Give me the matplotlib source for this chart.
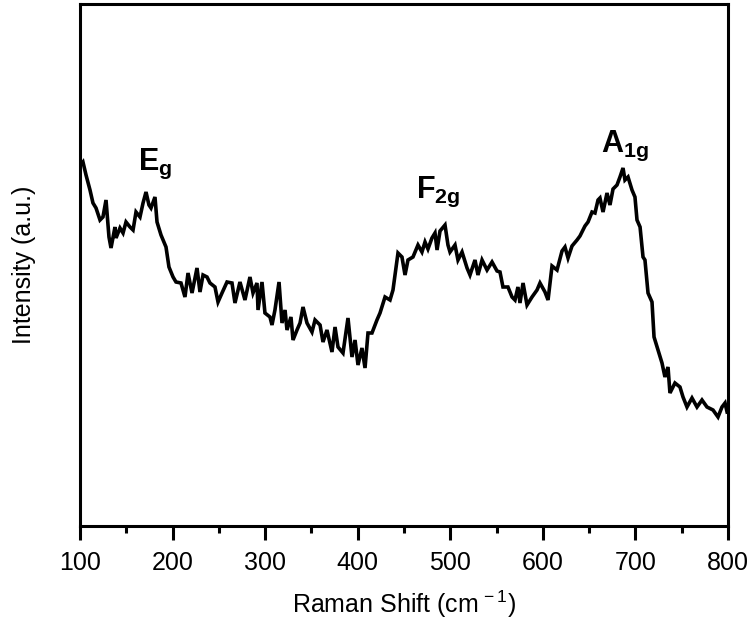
import matplotlib
matplotlib.use("Agg")
import matplotlib.pyplot as plt
from matplotlib.ticker import MultipleLocator

plt.rcParams['font.family'] = ['Liberation Sans', 'DejaVu Sans']
plt.rcParams['mathtext.fontset'] = 'custom'
plt.rcParams['mathtext.rm'] = 'Liberation Sans'
plt.rcParams['mathtext.it'] = 'Liberation Sans'
plt.rcParams['mathtext.bf'] = 'Liberation Sans:bold'

# Raman shift (cm^-1)
raman_shift = [100.5, 103.2, 106.5, 110.8, 114.0, 117.3, 121.6, 124.8, 128.1, 131.3,
               133.5, 137.8, 138.9, 143.2, 146.5, 149.7, 154.0, 157.3, 160.5, 164.8,
               168.1, 171.3, 174.5, 176.7, 181.0, 183.2, 187.5, 192.9, 196.1, 200.5,
               203.7, 209.1, 213.4, 216.7, 221.0, 226.4, 229.6, 232.9, 237.2, 240.4,
               245.8, 249.1, 253.4, 258.8, 264.2, 267.4, 272.8, 278.2, 283.6, 286.9,
               291.2, 292.3, 296.6, 299.8, 305.2, 307.4, 310.6, 315.0, 318.2, 321.5,
               323.6, 327.9, 330.1, 334.4, 337.7, 340.9, 345.2, 350.6, 353.9, 359.3,
               362.5, 366.8, 372.2, 375.5, 378.7, 384.1, 389.5, 393.8, 397.1, 400.3,
               404.6, 407.9, 411.1, 415.4, 420.8, 424.1, 429.5, 434.9, 438.1, 440.3,
               443.5, 447.8, 451.1, 454.3, 459.7, 465.1, 469.4, 472.7, 475.9, 480.2,
               483.5, 485.7, 488.9, 494.3, 497.5, 499.7, 505.1, 508.3, 512.7, 518.1,
               521.3, 526.7, 529.9, 534.3, 539.7, 545.1, 550.5, 553.7, 556.9, 562.3,
               566.7, 569.9, 573.1, 575.3, 578.6, 582.9, 588.3, 593.7, 596.9, 602.3,
               605.6, 609.9, 615.3, 620.7, 623.9, 627.2, 631.5, 636.9, 640.1, 645.5,
               648.8, 653.1, 656.3, 659.6, 661.7, 665.0, 669.3, 672.5, 675.8, 680.1,
               683.3, 686.6, 688.7, 692.0, 696.3, 699.5, 701.7, 705.0, 708.2, 710.3,
               713.6, 717.9, 720.1, 724.4, 728.7, 731.9, 735.2, 737.3, 742.7, 748.1,
               751.4, 755.7, 761.1, 766.5, 771.9, 777.3, 783.8, 789.2, 793.5, 796.8,
               799.0]

# Intensity (a.u.)
intensity = [361, 364, 351, 336, 323, 318, 306, 309, 326, 289,
             278, 299, 288, 298, 293, 304, 299, 296, 314, 309,
             323, 334, 321, 318, 329, 304, 291, 279, 259, 249,
             244, 243, 229, 253, 233, 258, 234, 251, 249, 243,
             239, 224, 233, 244, 243, 223, 244, 226, 249, 233,
             243, 216, 244, 213, 209, 201, 216, 244, 203, 216,
             196, 209, 186, 196, 203, 219, 203, 194, 206, 201,
             184, 196, 174, 199, 179, 173, 208, 169, 186, 161,
             178, 158, 193, 193, 206, 213, 229, 226, 236, 251,
             273, 269, 251, 266, 269, 281, 274, 284, 277, 288,
             293, 276, 295, 301, 281, 274, 281, 266, 274, 258,
             251, 266, 251, 266, 256, 264, 255, 254, 239, 239,
             229, 226, 239, 223, 243, 221, 229, 236, 243, 234,
             226, 260, 256, 275, 279, 268, 280, 286, 290, 300,
             304, 314, 313, 326, 328, 314, 333, 321, 337, 341,
             349, 358, 346, 349, 336, 329, 306, 299, 269, 266,
             233, 224, 189, 176, 163, 149, 159, 133, 143, 139,
             129, 119, 128, 119, 126, 119, 116, 109, 119, 123,
             114]

xticks = [100, 200, 300, 400, 500, 600, 700, 800]

# peak labels: (text, raman shift, intensity)
peak_labels = [(r'$\mathbf{E_g}$', 181, 356),
               (r'$\mathbf{F_{2g}}$', 487, 328),
               (r'$\mathbf{A_{1g}}$', 689, 374)]

fig = plt.figure(figsize=(7.51, 6.31), dpi=100)
ax = fig.add_axes([80/751, 1 - 526/631, 648/751, 522/631])

ax.plot(raman_shift, intensity, color='black', lw=2.6, solid_joinstyle='miter')

ax.set_xlim(100, 800)
ax.set_ylim(0, 522)
ax.set_xticks(xticks)
ax.set_xticklabels([str(t) for t in xticks])
ax.xaxis.set_minor_locator(MultipleLocator(50))
ax.tick_params(axis='x', which='major', direction='out', length=10, width=2.2,
               labelsize=18, pad=8)
ax.tick_params(axis='x', which='minor', direction='out', length=5, width=2.2)
ax.set_yticks([])
for s in ax.spines.values():
    s.set_linewidth(2.2)

ax.set_xlabel(r'Raman Shift (cm$^{\,-1}$)', fontsize=18, labelpad=10)
ax.set_ylabel('Intensity (a.u.)', fontsize=18, labelpad=32)

for txt, xv, yv in peak_labels:
    ax.text(xv, yv, txt, fontsize=22, ha='center', va='baseline')

fig.savefig('out.png', dpi=100)
